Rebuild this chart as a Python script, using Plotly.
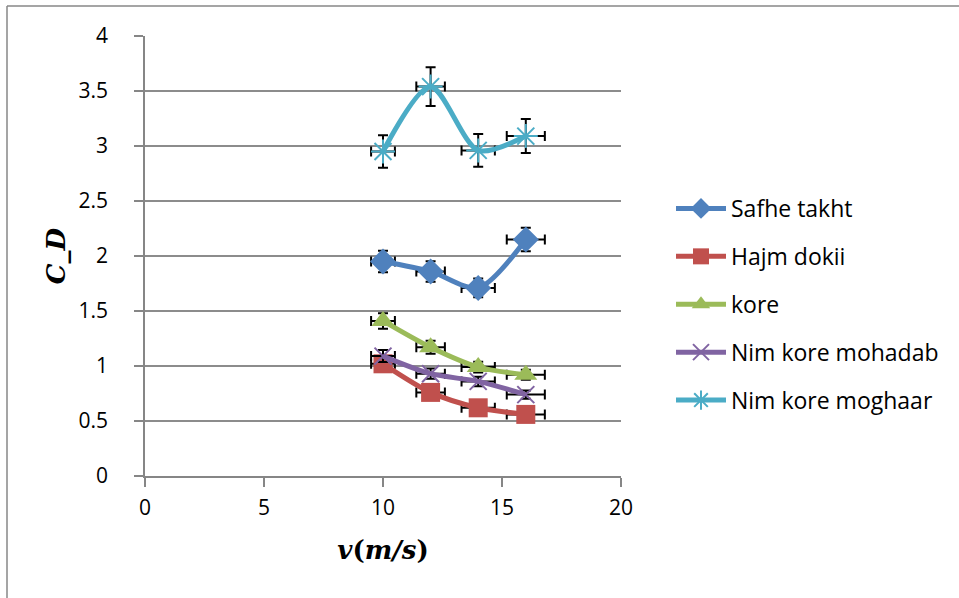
import plotly.graph_objects as go

velocity = [10, 12, 14, 16]
safhe_takht = [1.95, 1.86, 1.71, 2.15]
hajm_dokii = [1.02, 0.76, 0.62, 0.56]
kore = [1.41, 1.17, 0.99, 0.92]
nim_kore_mohadab = [1.09, 0.93, 0.86, 0.74]
nim_kore_moghaar = [2.95, 3.54, 2.96, 3.09]
error_percent = 5

series = [
    ("Safhe takht", safhe_takht, "#4F81BD", "diamond", 20, 0),
    ("Hajm dokii", hajm_dokii, "#C0504D", "square", 19, 0),
    ("kore", kore, "#9BBB59", "triangle-up", 20, 0),
    ("Nim kore mohadab", nim_kore_mohadab, "#8064A2", "x-thin-open", 17, 2),
    ("Nim kore moghaar", nim_kore_moghaar, "#4BACC6", "asterisk-open", 20, 2),
]

W, H = 959, 598
L, R, T, B = 145, 621, 36, 476

fig = go.Figure()
for i, (name, vals, color, sym, size, lw) in enumerate(series):
    marker = dict(symbol=sym, size=size, color=color)
    if lw:
        marker["line"] = dict(color=color, width=lw)
    else:
        marker["line"] = dict(width=0)
    fig.add_trace(go.Scatter(
        x=velocity, y=vals, name=name, mode="lines+markers",
        legendgroup=f"g{i}",
        line=dict(color=color, width=5, shape="spline", smoothing=0.8),
        marker=marker,
        error_y=dict(type="percent", value=error_percent, color="black", thickness=2, width=5),
        error_x=dict(type="percent", value=error_percent, color="black", thickness=2, width=5),
    ))

def px_x(p):
    return (p - L) / (R - L)

def px_y(p):
    return (B - p) / (B - T)

fig.add_shape(type="line", xref="paper", yref="paper",
              x0=px_x(7), x1=px_x(W + 5), y0=px_y(6), y1=px_y(6),
              line=dict(color="#878787", width=1.5))
fig.add_shape(type="line", xref="paper", yref="paper",
              x0=px_x(7), x1=px_x(7), y0=px_y(6), y1=px_y(H + 5),
              line=dict(color="#878787", width=1.5))

font_main = "Open Sans, Calibri, Carlito, sans-serif"
fig.update_layout(
    width=W, height=H,
    margin=dict(l=L, r=W - R, t=T, b=H - B),
    paper_bgcolor="white", plot_bgcolor="white",
    font=dict(family=font_main, size=21, color="black"),
    showlegend=True,
    legend=dict(x=px_x(671), y=px_y(187), xanchor="left", yanchor="top",
                font=dict(size=23, family=font_main), tracegroupgap=15,
                traceorder="grouped", itemwidth=50, bgcolor="rgba(0,0,0,0)"),
    xaxis=dict(range=[0, 20], dtick=5, showgrid=False, zeroline=False,
               showline=True, linecolor="#868686", linewidth=1.5,
               ticks="outside", ticklen=9, tickcolor="#868686", tickwidth=1.5,
               tickfont=dict(size=21), fixedrange=True, ticklabelstandoff=3,
               title=dict(text="<b><i>v</i>(<i>m/s</i>)</b>",
                          font=dict(family="DejaVu Serif", size=26), standoff=21)),
    yaxis=dict(range=[0, 4], dtick=0.5, showgrid=True, gridcolor="#8C8C8C", gridwidth=1.5,
               zeroline=False, showline=True, linecolor="#868686", linewidth=1.5,
               ticks="outside", ticklen=9, tickcolor="#868686", tickwidth=1.5,
               tickfont=dict(size=21), fixedrange=True, ticklabelstandoff=22,
               title=dict(text="<b><i>C_D</i></b>",
                          font=dict(family="DejaVu Serif", size=26), standoff=5)),
)

fig.write_html("out.html", config={"displayModeBar": False},
               post_script="document.body.style.margin='0';")
